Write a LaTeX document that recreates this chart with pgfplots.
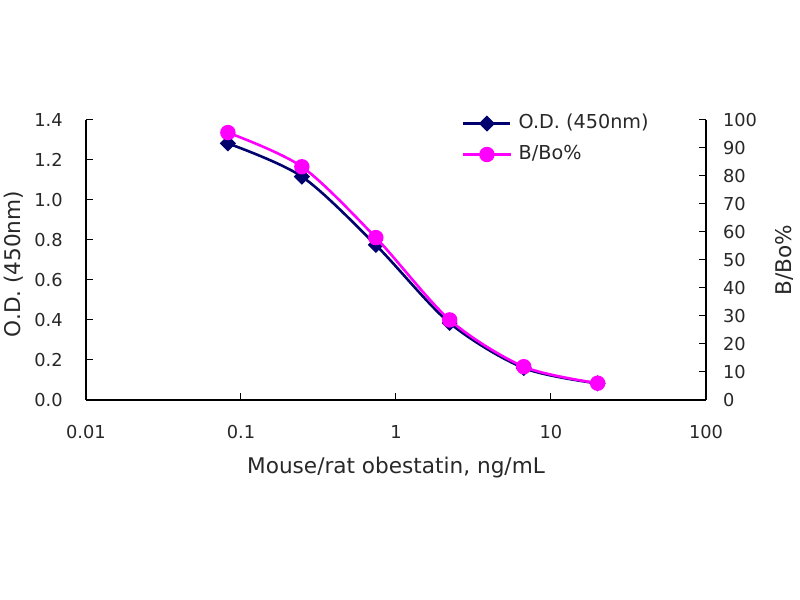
\documentclass[border=0pt]{standalone}
\usepackage{pgfplots}
\pgfplotsset{compat=1.18}
\usepackage{fontspec}
\setmainfont{DejaVu Sans}
\definecolor{odnavy}{RGB}{0,0,110}
\definecolor{bbmag}{RGB}{255,0,255}
\definecolor{txt}{RGB}{40,40,40}
\begin{document}
\begin{tikzpicture}
\fill[white] (0,0) rectangle (400pt,300pt);
\path[use as bounding box] (0,0) rectangle (400pt,300pt);
\begin{semilogxaxis}[
  at={(43pt,100pt)}, anchor=south west, scale only axis, width=310pt, height=140pt,
  xmin=0.01, xmax=100,
  tick align=inside, major tick length=3.3pt, minor tick length=0pt,
  minor x tick style={draw=none},
  tick style={black, line width=0.5pt},
  axis line style={black, line width=0.8pt},
  /pgf/number format/assume math mode=true,
  tick label style={font=\fontsize{8.9}{10}\selectfont, text=txt},
  label style={font=\fontsize{10.8}{13}\selectfont, text=txt},
  axis x line*=bottom, axis y line*=left,
  xtick={0.01,0.1,1,10,100}, xticklabels={0.01,0.1,1,10,100},
  ymin=0, ymax=1.4, ytick={0,0.2,0.4,0.6,0.8,1.0,1.2,1.4},
  yticklabel style={/pgf/number format/.cd, fixed, fixed zerofill, precision=1, /tikz/.cd, anchor=east, inner sep=0pt, xshift=-11.5pt},
  xticklabel style={anchor=center, inner sep=0pt, yshift=-16pt},
  xlabel={Mouse/rat obestatin, ng/mL},
  xlabel style={at={(axis description cs:0.5,-0.243)}, anchor=center},
  ylabel={O.D. (450nm)},
  ylabel style={at={(axis description cs:-0.116,0.486)}, anchor=center},
]
\addplot[odnavy, line width=1.3pt, smooth, mark=square*, mark size=2.2pt, mark options={solid, rotate=45, fill=odnavy}]
  coordinates {(0.0823,1.283)(0.247,1.117)(0.741,0.775)(2.22,0.385)(6.67,0.160)(20,0.083)};
\end{semilogxaxis}
\begin{semilogxaxis}[
  at={(43pt,100pt)}, anchor=south west, scale only axis, width=310pt, height=140pt,
  xmin=0.01, xmax=100,
  tick align=inside, major tick length=3.3pt, minor tick length=0pt,
  minor x tick style={draw=none},
  tick style={black, line width=0.5pt},
  axis line style={black, line width=0.8pt},
  /pgf/number format/assume math mode=true,
  tick label style={font=\fontsize{8.9}{10}\selectfont, text=txt},
  label style={font=\fontsize{10.8}{13}\selectfont, text=txt},
  axis y line*=right, axis x line=none,
  ymin=0, ymax=100, ytick={0,10,20,30,40,50,60,70,80,90,100},
  yticklabel style={anchor=west, inner sep=0pt, xshift=8.3pt},
  ylabel={B/Bo\%},
  ylabel style={at={(axis description cs:1.127,0.5)}, anchor=center},
  legend style={at={(axis description cs:0.606,1.021)}, anchor=north west, draw=none, fill=none,
    inner sep=0pt, row sep=6.5pt, column sep=3.5pt,
    nodes={inner sep=0pt, text height=7pt, text depth=2pt, font=\fontsize{9.6}{11}\selectfont, text=txt}},
  legend cell align=left,
  legend image code/.code={\draw[mark repeat=2, mark phase=2] plot coordinates {(0pt,0pt)(11.75pt,0pt)(23.5pt,0pt)};},
]
\addlegendimage{odnavy, line width=1.3pt, mark=square*, mark size=2.2pt, mark options={solid, rotate=45, fill=odnavy}}
\addlegendentry{O.D. (450nm)}
\addplot[bbmag, line width=1.3pt, smooth, mark=*, mark size=3.2pt, mark options={solid, fill=bbmag}]
  coordinates {(0.0823,95.5)(0.247,83.3)(0.741,58.0)(2.22,28.6)(6.67,11.9)(20,6.0)};
\addlegendentry{B/Bo\%}
\end{semilogxaxis}
\end{tikzpicture}
\end{document}
